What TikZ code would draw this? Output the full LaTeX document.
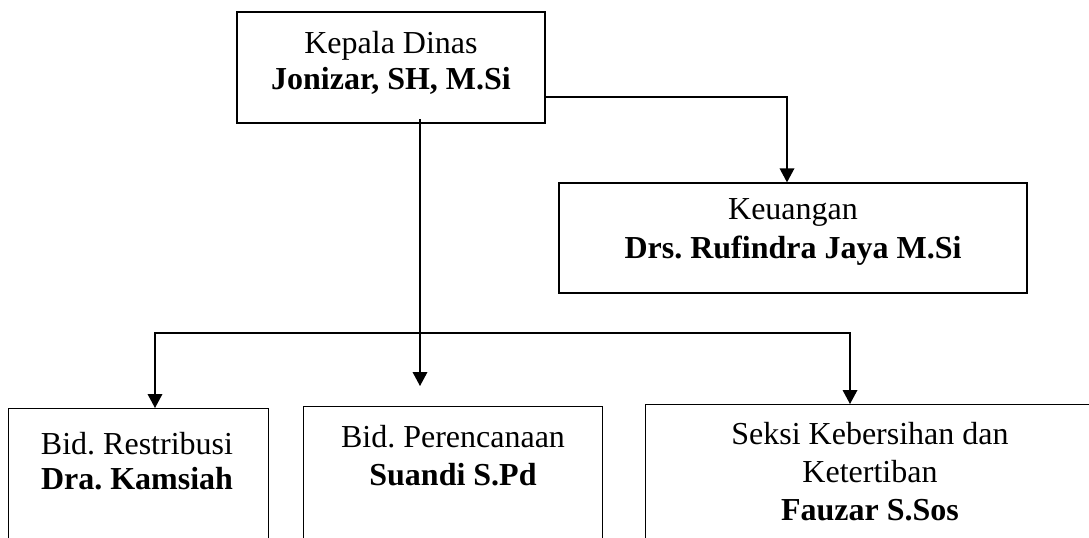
\documentclass[tikz,border=0pt]{standalone}
\usepackage{fontspec}
\setmainfont{Liberation Serif}
\usetikzlibrary{arrows.meta}
\frenchspacing
\begin{document}
\begin{tikzpicture}[x=0.75pt,y=-0.75pt,
  box/.style={draw=black, line width=1pt, rectangle, inner sep=0pt, fill=none},
  txt/.style={align=center, inner sep=0pt, font=\fontsize{24}{26.5}\selectfont},
  arr/.style={draw=black, line width=1pt, -{Triangle[width=11pt,length=10.5pt]}},
  ln/.style={draw=black, line width=1pt}]
\useasboundingbox (0,0) rectangle (1089,537);
% boxes
\node[box, minimum width=231pt, minimum height=83.25pt] (top) at (391,67.5) {};
\node[box, minimum width=351pt, minimum height=82.5pt] (keu) at (793,238) {};
\node[box, anchor=north west, minimum width=195pt, minimum height=144pt] (b1) at (8,408) {};
\node[box, anchor=north west, minimum width=224.25pt, minimum height=144pt] (b2) at (303,406) {};
\node[box, anchor=north west, minimum width=348.75pt, minimum height=144pt] (b3) at (645,404) {};
% texts
\node[txt] (ttop) at (391,63) {Kepala Dinas\\\textbf{Jonizar, SH, M.Si}};
\node[txt] (tkeu) at (793,232) {Keuangan\\[3pt]\textbf{Drs. Rufindra Jaya M.Si}};
\node[txt] (tb1) at (137,461) {Bid. Restribusi\\\textbf{Dra. Kamsiah}};
\node[txt] (tb2) at (453,456) {Bid. Perencanaan\\[2pt]\textbf{Suandi S.Pd}};
\node[txt] (tb3) at (870,472) {Seksi Kebersihan dan\\[2pt]Ketertiban\\[2pt]\textbf{Fauzar S.Sos}};
% connectors
\coordinate (r0) at (545,97);
\draw[arr] (r0) -| (keu.north west -| 787,0);
\coordinate (s0) at (420,119);
\coordinate (mid) at (420,386);
\coordinate (j) at (420,333);
\draw[arr] (s0) -- (mid);
\coordinate (t1) at (155,408);
\coordinate (t3) at (850,404);
\draw[arr] (j) -| (t1);
\draw[arr] (j) -| (t3);
\end{tikzpicture}
\end{document}
